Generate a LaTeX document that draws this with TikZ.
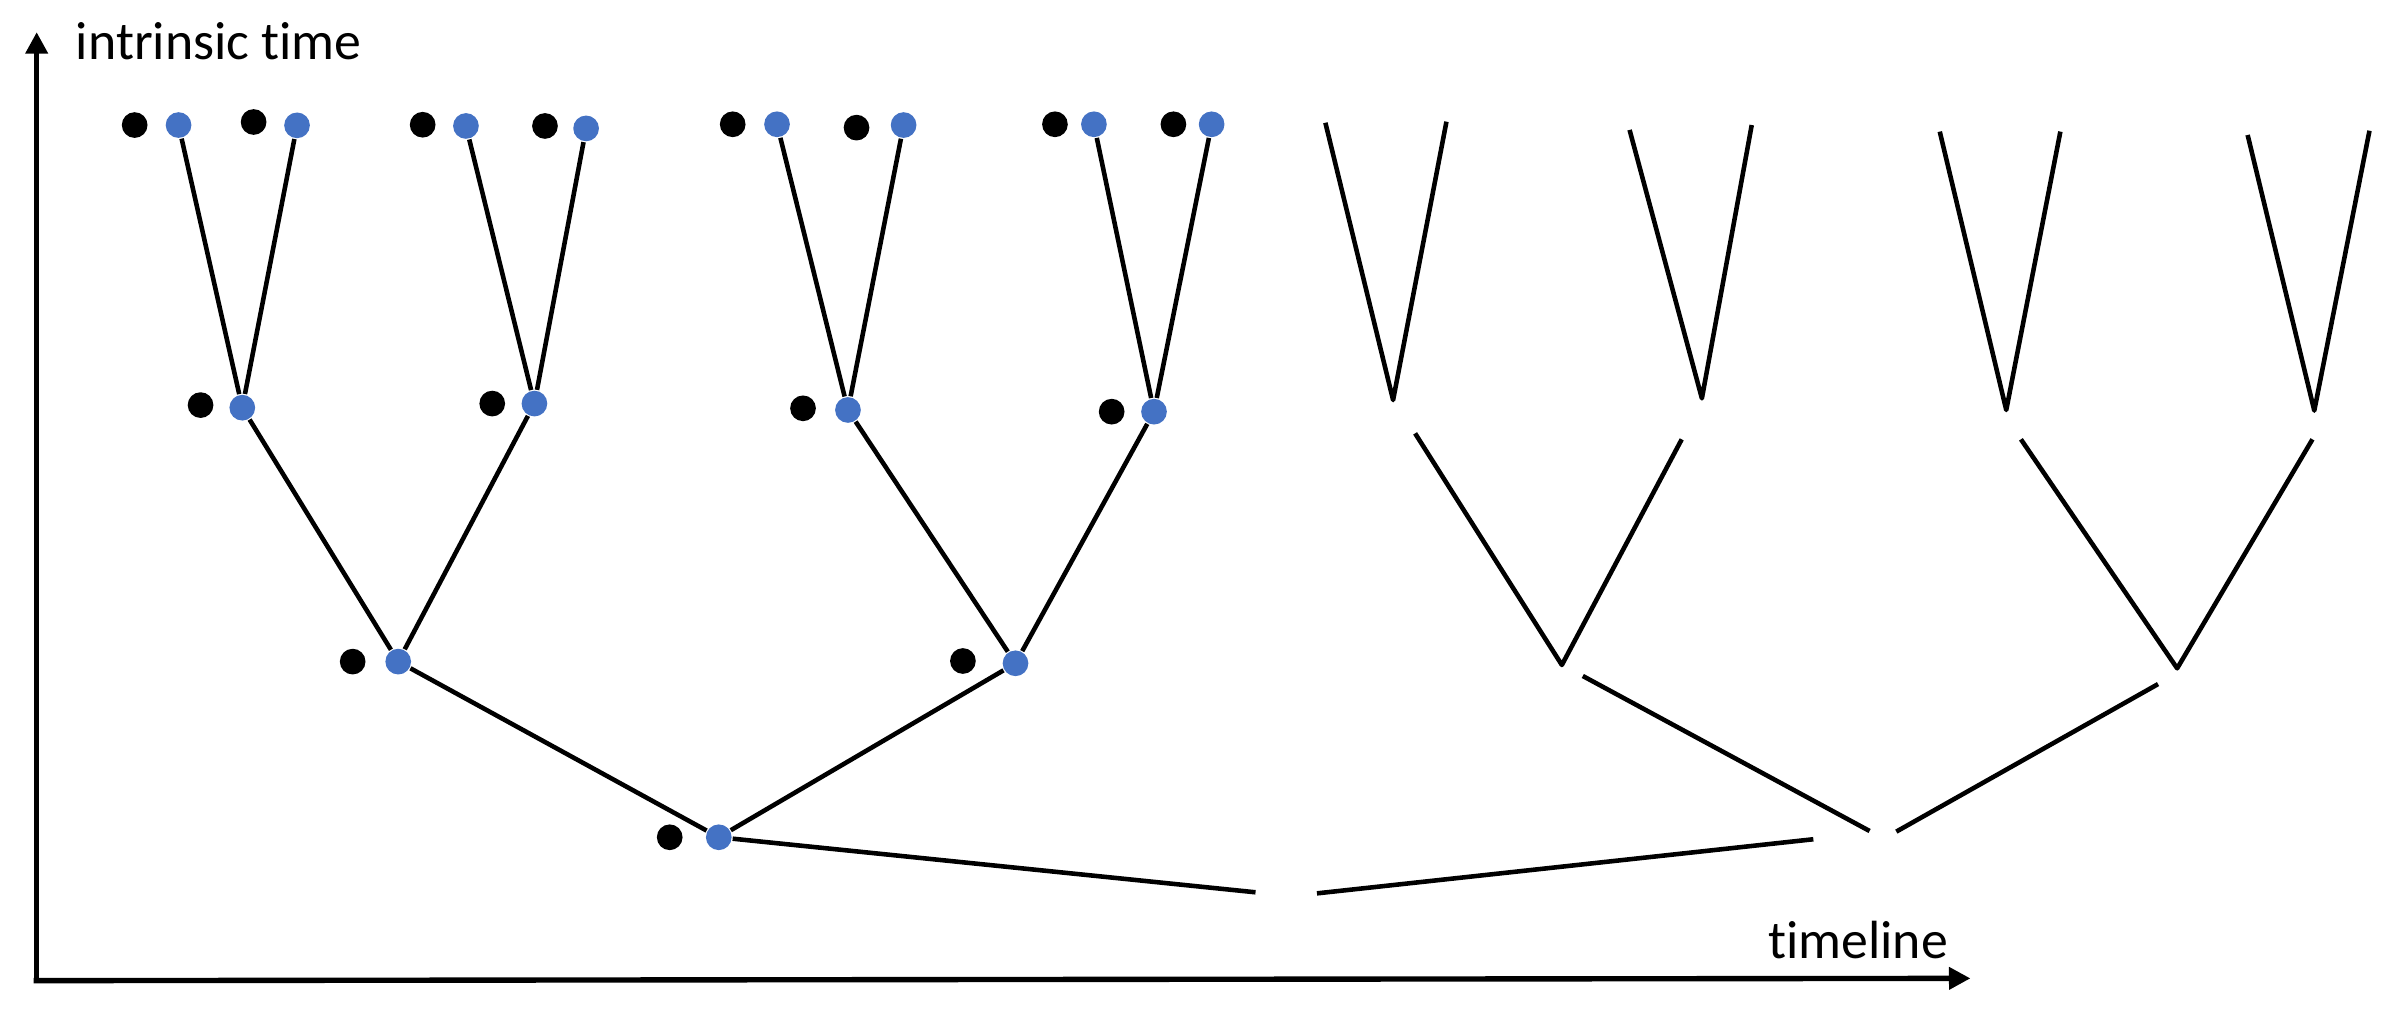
\documentclass[tikz,border=0pt]{standalone}
\usepackage{fontspec}
\setmainfont{Carlito}[RawFeature={-liga;-clig}]
\usetikzlibrary{arrows.meta}
\definecolor{dotblue}{HTML}{4472C4}
\begin{document}
\begin{tikzpicture}[x=0.01cm,y=-0.01cm,
  kdot/.style={circle,fill=black,inner sep=0pt,minimum size=0.168cm},
  bdot/.style={circle,fill=dotblue,inner sep=0pt,minimum size=0.168cm},
  edge/.style={line width=0.85pt,line join=round},
  axisline/.style={line width=1pt,-{Triangle[length=4pt,width=4pt]}},
  lbl/.style={inner sep=0pt,anchor=base west,font=\fontsize{10pt}{12pt}\selectfont}]
\useasboundingbox (0,0) rectangle (1568,667);

% axes
\coordinate (origin) at (24,642);
\coordinate (ytip) at (24,21);
\coordinate (xorig) at (22,641.5);
\coordinate (xtip) at (1289,640);
\draw[axisline] (origin) -- (ytip);
\draw[axisline] (xorig) -- (xtip);
\node[lbl] (ylabel) at (49,39.2) {intrinsic time};
\node[lbl] (xlabel) at (1156,626.7) {timeline};

% top row
\node[kdot] (k11) at (88.1,81.8) {};
\node[bdot] (b11) at (116.8,81.8) {};
\node[kdot] (k12) at (165.9,79.8) {};
\node[bdot] (b12) at (194.3,82) {};
\node[kdot] (k13) at (276.5,81.6) {};
\node[bdot] (b13) at (304.8,82.4) {};
\node[kdot] (k14) at (356.5,82.4) {};
\node[bdot] (b14) at (383.4,84) {};
\node[kdot] (k15) at (479.3,81.3) {};
\node[bdot] (b15) at (508.3,81.3) {};
\node[kdot] (k16) at (560.3,83.5) {};
\node[bdot] (b16) at (591.1,81.8) {};
\node[kdot] (k17) at (690.1,81.3) {};
\node[bdot] (b17) at (715.6,81.3) {};
\node[kdot] (k18) at (767.6,81.3) {};
\node[bdot] (b18) at (792.6,81.3) {};

% level 2
\node[kdot] (k21) at (131.2,265) {};
\node[bdot] (b21) at (158.5,266.7) {};
\node[kdot] (k22) at (322,264) {};
\node[bdot] (b22) at (349.6,264) {};
\node[kdot] (k23) at (525.3,267.1) {};
\node[bdot] (b23) at (554.7,268.2) {};
\node[kdot] (k24) at (727.2,269.3) {};
\node[bdot] (b24) at (754.9,269.3) {};

% level 3
\node[kdot] (k31) at (230.7,432.8) {};
\node[bdot] (b31) at (260.5,432.8) {};
\node[kdot] (k32) at (629.9,432.4) {};
\node[bdot] (b32) at (664.3,433.9) {};

% level 4
\node[kdot] (k41) at (438.1,547.7) {};
\node[bdot] (b41) at (470.2,547.7) {};

% left tree edges
\draw[edge] (b11) -- (b21);
\draw[edge] (b12) -- (b21);
\draw[edge] (b13) -- (b22);
\draw[edge] (b14) -- (b22);
\draw[edge] (b15) -- (b23);
\draw[edge] (b16) -- (b23);
\draw[edge] (b17) -- (b24);
\draw[edge] (b18) -- (b24);
\draw[edge] (b21) -- (b31);
\draw[edge] (b22) -- (b31);
\draw[edge] (b23) -- (b32);
\draw[edge] (b24) -- (b32);
\draw[edge] (b31) -- (b41);
\draw[edge] (b32) -- (b41);

% bottom link with gap
\coordinate (g1) at (821.3,583.7);
\coordinate (g2) at (861.5,584.4);
\coordinate (g3) at (1186.2,549);
\draw[edge] (b41) -- (g1);
\draw[edge] (g2) -- (g3);

% right half: top V's
\coordinate (v1l) at (867,80.3);
\coordinate (v1b) at (911.3,261.7);
\coordinate (v1r) at (946.2,79.6);
\coordinate (v2l) at (1066,85);
\coordinate (v2b) at (1113.3,260.6);
\coordinate (v2r) at (1145.9,81.8);
\coordinate (v3l) at (1268.9,86.1);
\coordinate (v3b) at (1312.4,268.2);
\coordinate (v3r) at (1347.8,86.1);
\coordinate (v4l) at (1470.3,88.3);
\coordinate (v4b) at (1513.9,268.6);
\coordinate (v4r) at (1550,85.5);
\draw[edge] (v1l) -- (v1b) -- (v1r);
\draw[edge] (v2l) -- (v2b) -- (v2r);
\draw[edge] (v3l) -- (v3b) -- (v3r);
\draw[edge] (v4l) -- (v4b) -- (v4r);

% right half: middle V's
\coordinate (w1l) at (925.7,283.5);
\coordinate (w1b) at (1021.7,435);
\coordinate (w1r) at (1100.1,287.4);
\coordinate (w2l) at (1322,287.4);
\coordinate (w2b) at (1424.2,437.2);
\coordinate (w2r) at (1512.7,287.4);
\draw[edge] (w1l) -- (w1b) -- (w1r);
\draw[edge] (w2l) -- (w2b) -- (w2r);

% right half: lower pair
\coordinate (x1a) at (1035.4,442.2);
\coordinate (x1b) at (1223,543.6);
\coordinate (x2a) at (1240.5,544);
\coordinate (x2b) at (1411.7,447.5);
\draw[edge] (x1a) -- (x1b);
\draw[edge] (x2a) -- (x2b);
\end{tikzpicture}
\end{document}
